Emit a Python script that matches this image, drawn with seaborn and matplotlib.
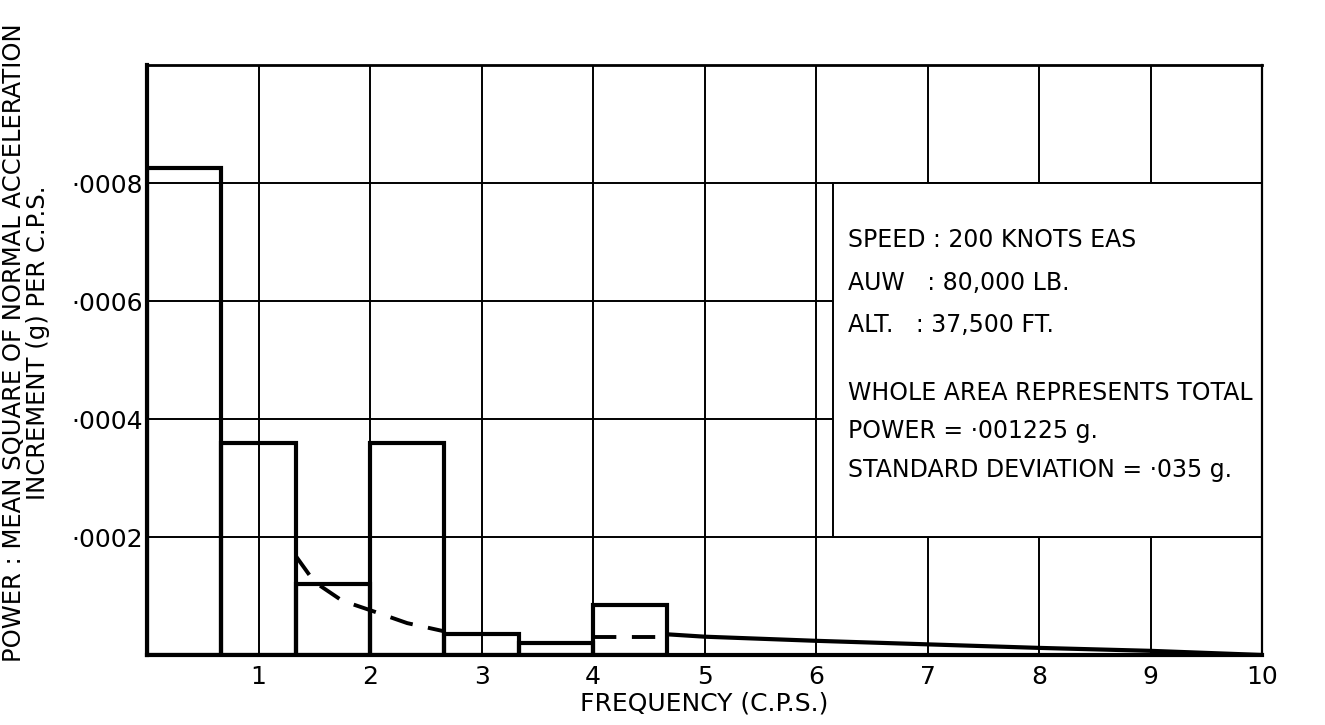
import matplotlib
matplotlib.use("Agg")
import matplotlib.pyplot as plt
from matplotlib.patches import Rectangle
import pandas as pd
import seaborn as sns

# --------------------------------------------------------------------------- #
# Data
# --------------------------------------------------------------------------- #
bin_edges = [0.0, 0.667, 1.333, 2.0, 2.667, 3.333, 4.0, 4.667]
bin_power = [0.000825, 0.00036, 0.00012, 0.00036, 0.000035, 0.000021, 0.000084]

smooth_freq = [1.333, 1.5, 1.75, 2.0, 2.333, 2.667]
smooth_power = [0.000168, 0.000124, 0.000092, 0.000076, 0.000054, 0.00004]

smooth2_freq = [4.0, 4.667]
smooth2_power = [0.00003, 0.00003]

tail_freq = [4.667, 5, 6, 7, 8, 9, 10]
tail_power = [0.000035, 0.000031, 0.000024, 0.000018, 0.000012, 0.000007, 0.0]

x_ticks = [1, 2, 3, 4, 5, 6, 7, 8, 9, 10]
x_labels = ["1", "2", "3", "4", "5", "6", "7", "8", "9", "10"]
y_ticks = [0.0002, 0.0004, 0.0006, 0.0008]
y_labels = ["\u00b70002", "\u00b70004", "\u00b70006", "\u00b70008"]

notes = [
    "SPEED : 200 KNOTS EAS",
    "AUW   : 80,000 LB.",
    "ALT.   : 37,500 FT.",
    "WHOLE AREA REPRESENTS TOTAL",
    "POWER = \u00b7001225 g.",
    "STANDARD DEVIATION = \u00b7035 g.",
]

# --------------------------------------------------------------------------- #
# Plot
# --------------------------------------------------------------------------- #
sns.set_style("white")
plt.rcParams["font.family"] = ["DejaVu Sans"]
plt.rcParams["text.color"] = "black"
plt.rcParams["axes.labelcolor"] = "black"
plt.rcParams["xtick.color"] = "black"
plt.rcParams["ytick.color"] = "black"

fig = plt.figure(figsize=(13.25, 7.25), dpi=100)
ax = fig.add_axes([0.111, 0.0966, 0.8415, 0.8134])

centers = [(a + b) / 2 for a, b in zip(bin_edges[:-1], bin_edges[1:])]
df = pd.DataFrame({"freq": centers, "power": bin_power})
sns.histplot(data=df, x="freq", weights="power", bins=bin_edges,
             element="bars", fill=False, color="black", linewidth=3,
             ax=ax, zorder=3)

for xs, ys in [(smooth_freq, smooth_power), (smooth2_freq, smooth2_power)]:
    sns.lineplot(x=xs, y=ys, color="black", linewidth=2.8, ax=ax, zorder=3)
    ax.lines[-1].set_dashes((6, 4))
sns.lineplot(x=tail_freq, y=tail_power, color="black", linewidth=3,
             ax=ax, zorder=3)

ax.set_xlim(0, 10)
ax.set_ylim(0, 0.001)
ax.set_xticks(x_ticks)
ax.set_xticklabels(x_labels, fontsize=18)
ax.set_yticks(y_ticks)
ax.set_yticklabels(y_labels, fontsize=18, va="top")
ax.tick_params(axis="x", length=0, pad=7)
ax.tick_params(axis="y", length=0, pad=3)
for lbl in ax.get_yticklabels():
    lbl.set_y(lbl.get_position()[1])
    lbl.set_verticalalignment("center_baseline")

ax.grid(True, color="black", linewidth=1.4)
ax.set_axisbelow(True)

for side, lw in [("left", 3), ("bottom", 3), ("top", 2), ("right", 1.6)]:
    ax.spines[side].set_visible(True)
    ax.spines[side].set_color("black")
    ax.spines[side].set_linewidth(lw)

# white note panel covering the grid on the right
ax.add_patch(Rectangle((6.15, 0.0002), 3.85, 0.0006, facecolor="white",
                       edgecolor="black", linewidth=1.4, zorder=1.5))
note_y = [0.000703, 0.000631, 0.00056, 0.000444, 0.00038, 0.000314]
for y, line in zip(note_y, notes):
    ax.text(6.29, y, line, fontsize=17, va="center", ha="left", zorder=4)

ax.set_xlabel("FREQUENCY (C.P.S.)", fontsize=18, labelpad=2)
ax.set_ylabel("POWER : MEAN SQUARE OF NORMAL ACCELERATION\nINCREMENT (g) PER C.P.S.",
              fontsize=17.5, linespacing=1.0)
ax.yaxis.set_label_coords(-0.087, 0.53)

fig.savefig("out.png", dpi=100)
plt.close(fig)
